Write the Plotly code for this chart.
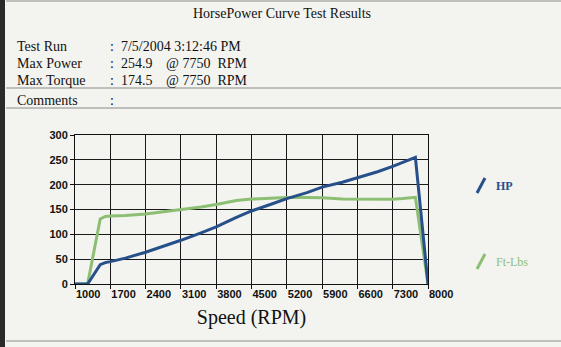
import plotly.graph_objects as go

# Dyno run: engine speed (RPM) against power (HP) and torque (Ft-Lbs)
rpm = [1000, 1250, 1500, 1600, 1700, 2000, 2400, 2800, 3100, 3500, 3800,
       4200, 4500, 4900, 5200, 5600, 5900, 6300, 6600, 7000, 7300, 7500,
       7750, 8000]
hp = [0, 0, 39, 43, 45, 52, 64, 77, 88, 103, 115,
      134, 147, 161, 172, 184, 195, 205, 214, 226, 237, 245,
      254.9, 0]
torque = [0, 0, 131, 136, 137, 138, 141, 146, 150, 155, 160,
          168, 171, 173, 174, 174, 173.5, 171, 170.5, 170, 170.5, 172,
          174.5, 0]

x_ticks = [1000, 1700, 2400, 3100, 3800, 4500, 5200, 5900, 6600, 7300, 8000]
y_ticks = [0, 50, 100, 150, 200, 250, 300]

W, H = 561, 347
L, R, T, B = 75, 428, 135, 284  # plot-area edges in pixels

HP_COLOR = "#274f8a"
TQ_COLOR = "#8cbf74"
BG = "#f3f3ef"
SERIF = "Liberation Serif"


def px(xp):
    return (xp - L) / (R - L)


def py(yp):
    return (B - yp) / (B - T)


fig = go.Figure()
fig.add_trace(go.Scatter(x=rpm, y=torque, mode="lines", name="Ft-Lbs",
                         line=dict(color=TQ_COLOR, width=3)))
fig.add_trace(go.Scatter(x=rpm, y=hp, mode="lines", name="HP",
                         line=dict(color=HP_COLOR, width=3)))

axis_font = dict(family="Liberation Sans", size=11, color="#111", weight="bold")

fig.update_layout(
    width=W, height=H,
    margin=dict(l=L, r=W - R, t=T, b=H - B, pad=0),
    paper_bgcolor=BG, plot_bgcolor=BG,
    showlegend=False,
    xaxis=dict(range=[1000, 8000], tickvals=x_ticks,
               ticktext=[str(v) for v in x_ticks],
               ticklabelposition="outside right",
               showgrid=True, gridcolor="#1a1a1a", gridwidth=1,
               showline=True, linecolor="#111", linewidth=1, mirror=True,
               ticks="outside", ticklen=4, tickcolor="#111",
               tickfont=axis_font, zeroline=False,
               title=dict(text="Speed (RPM)",
                          font=dict(family=SERIF, size=20, color="#111"),
                          standoff=10)),
    yaxis=dict(range=[0, 300], tickvals=y_ticks,
               showgrid=True, gridcolor="#1a1a1a", gridwidth=1,
               showline=True, linecolor="#111", linewidth=1, mirror=True,
               ticks="outside", ticklen=4, tickcolor="#111",
               tickfont=axis_font, zeroline=False),
)

txt = dict(family=SERIF, size=14, color="#111")
annotations = [
    dict(x=px(282), y=py(14), text="HorsePower Curve Test Results",
         xanchor="center", font=txt),
    dict(x=px(15), y=py(46), text="Test Run", xanchor="left", font=txt),
    dict(x=px(15), y=py(63), text="Max Power", xanchor="left", font=txt),
    dict(x=px(15), y=py(80), text="Max Torque", xanchor="left", font=txt),
    dict(x=px(15), y=py(100), text="Comments", xanchor="left", font=txt),
    dict(x=px(108), y=py(46), text=":  7/5/2004 3:12:46 PM", xanchor="left", font=txt),
    dict(x=px(108), y=py(63), text=":  254.9", xanchor="left", font=txt),
    dict(x=px(108), y=py(80), text=":  174.5", xanchor="left", font=txt),
    dict(x=px(108), y=py(100), text=":", xanchor="left", font=txt),
    dict(x=px(164), y=py(63), text="@ 7750  RPM", xanchor="left", font=txt),
    dict(x=px(164), y=py(80), text="@ 7750  RPM", xanchor="left", font=txt),
    dict(x=px(494), y=py(186), text="<b>HP</b>", xanchor="left",
         font=dict(family=SERIF, size=12, color=HP_COLOR)),
    dict(x=px(494), y=py(262), text="Ft-Lbs", xanchor="left",
         font=dict(family=SERIF, size=12, color=TQ_COLOR)),
]
for a in annotations:
    a.update(xref="paper", yref="paper", yanchor="middle", showarrow=False)
fig.update_layout(annotations=annotations)

rule = dict(color="#8a8a8a", width=1)
shapes = [
    # dark scanner edge down the left side
    dict(type="rect", x0=px(0), x1=px(5), y0=py(0), y1=py(H),
         fillcolor="#2a2a2a", line=dict(width=0)),
    dict(type="line", x0=px(6), x1=px(W), y0=py(1), y1=py(1), line=rule),
    dict(type="line", x0=px(6), x1=px(W), y0=py(88), y1=py(88), line=rule),
    dict(type="line", x0=px(6), x1=px(W), y0=py(108), y1=py(108), line=rule),
    dict(type="line", x0=px(6), x1=px(W), y0=py(341), y1=py(341), line=rule),
    # legend keys
    dict(type="line", x0=px(477), x1=px(485), y0=py(193), y1=py(178),
         line=dict(color=HP_COLOR, width=3)),
    dict(type="line", x0=px(477), x1=px(485), y0=py(269), y1=py(254),
         line=dict(color=TQ_COLOR, width=3)),
]
for s in shapes:
    s.update(xref="paper", yref="paper", layer="above")
fig.update_layout(shapes=shapes)

fig.write_html("out.html")
